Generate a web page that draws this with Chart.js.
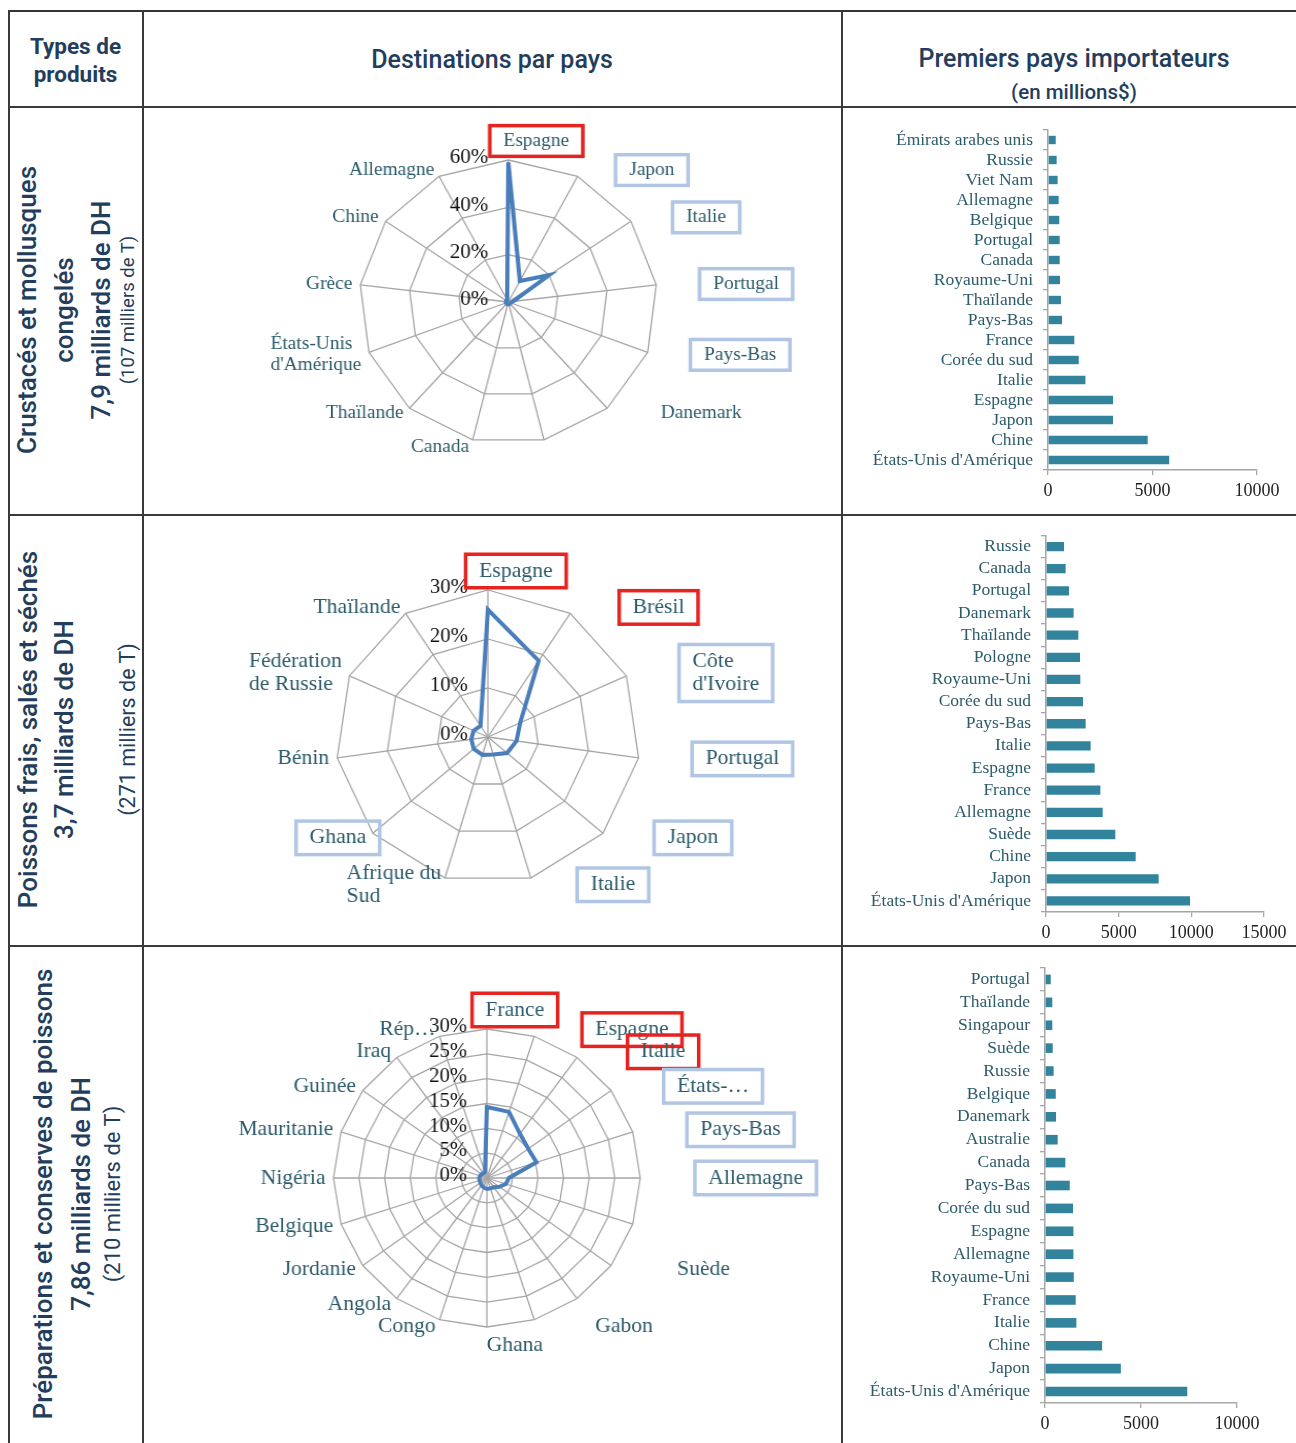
<!DOCTYPE html>
<html>
<head>
<meta charset="utf-8">
<script src="https://cdn.jsdelivr.net/npm/chart.js@4.4.1/dist/chart.umd.min.js"></script>
<style>
  body { margin: 0; background: #fff; width: 1296px; height: 1443px; position: relative; overflow: hidden;
         font-family: Roboto, 'Noto Sans', sans-serif; color: #233d5c; }
  .hl { position: absolute; height: 1.5px; background: #3a3a3a; }
  .vl { position: absolute; width: 1.5px; background: #3a3a3a; }
  canvas { position: absolute; }
  .hd { position: absolute; text-align: center; white-space: nowrap; }
  .rot { position: absolute; transform-origin: 0 0; transform: rotate(-90deg); }
  .rot div { position: absolute; left: 0; width: 100%; text-align: center; white-space: nowrap; }
</style>
</head>
<body>
<!-- table rules -->
<div class="hl" style="left:8px;top:10px;width:1288px;height:2px;background:#333"></div>
<div class="hl" style="left:8px;top:106px;width:1288px"></div>
<div class="hl" style="left:8px;top:514px;width:1288px"></div>
<div class="hl" style="left:8px;top:945px;width:1288px"></div>
<div class="vl" style="left:8px;top:10px;height:1433px"></div>
<div class="vl" style="left:142px;top:10px;height:1433px"></div>
<div class="vl" style="left:841px;top:10px;height:1433px"></div>

<!-- header -->
<div class="hd" style="left:9px;width:133px;top:32px;font-size:22.5px;font-weight:700;line-height:28px">Types de<br>produits</div>
<div class="hd" style="left:143px;width:698px;top:45px;font-size:25px;font-weight:500">Destinations par pays</div>
<div class="hd" style="left:842px;width:464px;top:44px;font-size:25px;font-weight:500">Premiers pays importateurs</div>
<div class="hd" style="left:842px;width:464px;top:80px;font-size:20.5px;font-weight:500">(en millions$)</div>

<!-- row titles, rotated -->
<div class="rot" style="left:9px;top:514px;width:408px;height:133px">
  <div style="top:2px;font-size:26px;line-height:32px;font-weight:500">Crustacés et mollusques</div>
  <div style="top:39px;font-size:26px;line-height:32px;font-weight:500">congelés</div>
  <div style="top:76px;font-size:26px;line-height:32px;font-weight:500">7,9 milliards de DH</div>
  <div style="top:108px;font-size:18.5px;line-height:22px">(107 milliers de T)</div>
</div>
<div class="rot" style="left:9px;top:945px;width:431px;height:133px">
  <div style="top:3px;font-size:26px;line-height:32px;font-weight:500">Poissons frais,  salés et séchés</div>
  <div style="top:39px;font-size:26px;line-height:32px;font-weight:500">3,7 milliards de DH</div>
  <div style="top:106px;font-size:21.5px;line-height:26px">(271 milliers de T)</div>
</div>
<div class="rot" style="left:9px;top:1443px;width:498px;height:133px">
  <div style="top:18px;font-size:26px;line-height:32px;font-weight:500">Préparations et conserves de poissons</div>
  <div style="top:56px;font-size:26px;line-height:32px;font-weight:500">7,86 milliards de DH</div>
  <div style="top:91px;font-size:22px;line-height:26px">(210 milliers de T)</div>
</div>

<canvas id="r1"></canvas>
<canvas id="r2"></canvas>
<canvas id="r3"></canvas>
<canvas id="b1" width="454" height="406" style="left:842px;top:107px"></canvas>
<canvas id="b2" width="454" height="429" style="left:842px;top:515px"></canvas>
<canvas id="b3" width="454" height="497" style="left:842px;top:946px"></canvas>

<script>
// ---- data: destinations (share of exports, %) ----
const crustLabels = ['Espagne', 'Japon', 'Italie', 'Portugal', 'Pays-Bas', 'Danemark', '', 'Canada',
  'Thaïlande', ['États-Unis', "d'Amérique"], 'Grèce', 'Chine', 'Allemagne'];
const crustShares = [59, 10, 20, 2, 1, 1, 1, 1, 1, 1, 1, 1, 1];
const crustTicks = { max: 60, step: 20 };

const fraisLabels = ['Espagne', 'Brésil', ['Côte', "d'Ivoire"], 'Portugal', 'Japon', 'Italie',
  ['Afrique du', 'Sud'], 'Ghana', 'Bénin', ['Fédération', 'de Russie'], 'Thaïlande'];
const fraisShares = [26, 18.5, 7, 5.7, 5, 3.7, 3.8, 3.7, 3.3, 3.1, 2.7];
const fraisTicks = { max: 30, step: 10 };

const consLabels = ['France', 'Espagne', 'Italie', 'États-…', 'Pays-Bas', 'Allemagne', '', 'Suède', '',
  'Gabon', 'Ghana', 'Congo', 'Angola', 'Jordanie', 'Belgique', 'Nigéria', 'Mauritanie', 'Guinée', 'Iraq', 'Rép…'];
const consShares = [14.3, 14, 11, 10, 10.2, 4.3, 3.9, 3, 2.3, 2.2, 2.2, 2, 1.8, 1.6, 1.5, 1.5, 1.4, 1.3, 1.2, 1.2];
const consTicks = { max: 30, step: 5 };

// highlighted destinations
const crustRed = ['Espagne'];
const crustBlue = ['Japon', 'Italie', 'Portugal', 'Pays-Bas'];
const fraisRed = ['Espagne', 'Brésil'];
const fraisBlue = ["Côte d'Ivoire", 'Portugal', 'Japon', 'Italie', 'Ghana'];
const consRed = ['France', 'Espagne', 'Italie'];
const consBlue = ['États-…', 'Pays-Bas', 'Allemagne'];

// ---- data: top importers (millions $) ----
const crustImp = ['Émirats arabes unis', 'Russie', 'Viet Nam', 'Allemagne', 'Belgique', 'Portugal', 'Canada',
  'Royaume-Uni', 'Thaïlande', 'Pays-Bas', 'France', 'Corée du sud', 'Italie', 'Espagne', 'Japon', 'Chine',
  "États-Unis d'Amérique"];
const crustImpVal = [370, 415, 460, 510, 540, 560, 560, 575, 620, 670, 1260, 1470, 1790, 3110, 3110, 4770, 5800];
const crustImpMax = 10000;

const fraisImp = ['Russie', 'Canada', 'Portugal', 'Danemark', 'Thaïlande', 'Pologne', 'Royaume-Uni',
  'Corée du sud', 'Pays-Bas', 'Italie', 'Espagne', 'France', 'Allemagne', 'Suède', 'Chine', 'Japon',
  "États-Unis d'Amérique"];
const fraisImpVal = [1240, 1350, 1580, 1900, 2225, 2340, 2360, 2545, 2730, 3070, 3350, 3740, 3900, 4770, 6170, 7750, 9910];
const fraisImpMax = 15000;

const consImp = ['Portugal', 'Thaïlande', 'Singapour', 'Suède', 'Russie', 'Belgique', 'Danemark', 'Australie',
  'Canada', 'Pays-Bas', 'Corée du sud', 'Espagne', 'Allemagne', 'Royaume-Uni', 'France', 'Italie', 'Chine',
  'Japon', "États-Unis d'Amérique"];
const consImpVal = [300, 380, 380, 400, 450, 560, 575, 660, 1060, 1290, 1460, 1480, 1480, 1500, 1600, 1635, 2975, 3950, 7410];
const consImpMax = 10000;

const serif = "'Liberation Serif', 'Times New Roman', serif";
const labelColor = '#2c5b6b';
const gridGrey = '#a6a6a6';

// draws the % ticks and the country names around the radar
// (the canvas is stretched horizontally by sx, like the original pasted charts)
function radarText(size, red, blue, sx, gap) {
  return {
    id: 'radarText',
    afterDraw(chart) {
      const scale = chart.scales.r;
      const ctx = chart.ctx;
      ctx.save();
      ctx.font = '20px ' + serif;
      ctx.fillStyle = '#111';
      ctx.textAlign = 'right';
      ctx.textBaseline = 'middle';
      scale.ticks.forEach(t => {
        const d = scale.getDistanceFromCenterForValue(t.value);
        ctx.fillText(t.value + '%', scale.xCenter - 20 / sx, scale.yCenter - d - 2);
      });

      ctx.font = size + 'px ' + serif;
      ctx.textAlign = 'left';
      const lh = size * 1.12;
      chart.data.labels.forEach((lab, i) => {
        const lines = [].concat(lab);
        const name = lines.join(' ');
        if (!name) return;
        const a = scale.getIndexAngle(i);
        const s = Math.sin(a), c = Math.cos(a);
        const p = scale.getPointPosition(i, scale.drawingArea);
        const w = Math.max(...lines.map(l => ctx.measureText(l).width));
        const h = lh * lines.length;
        let x, y;
        if (Math.abs(s) < 0.01) {
          x = p.x + 28 / sx - w / 2;
          y = c > 0 ? p.y - 19 : p.y + 18;
        } else if (s > 0) {
          x = p.x + (gap + 10 * s) / sx;
          y = p.y - 7 * c;
        } else {
          x = p.x - (2 - 6 * s) / sx - w;
          y = p.y - 7 * c;
        }
        const top = y - h / 2;
        ctx.fillStyle = labelColor;
        lines.forEach((l, k) => ctx.fillText(l, x, top + lh * (k + 0.5)));
        const box = red.includes(name) ? '#e52421' : (blue.includes(name) ? '#b0c6e4' : null);
        if (box) {
          ctx.strokeStyle = box;
          ctx.lineWidth = 3.5;
          ctx.strokeRect(x - 13, top - 5, w + 26, h + 10);
        }
      });
      ctx.restore();
    }
  };
}

// geo: cell box on the page, centre and radius of the web, horizontal stretch, label gap
function makeRadar(id, labels, values, ticks, geo, size, red, blue) {
  const cv = document.getElementById(id);
  const w = Math.round(geo.width / geo.sx);
  const cx = Math.round((geo.cx - geo.left) / geo.sx);
  const cy = geo.cy - geo.top;
  cv.width = w;
  cv.height = geo.height;
  cv.style.left = geo.left + 'px';
  cv.style.top = geo.top + 'px';
  cv.style.width = geo.width + 'px';
  cv.style.height = geo.height + 'px';
  new Chart(cv, {
    type: 'radar',
    data: {
      labels: labels,
      datasets: [{ data: values, borderColor: '#4a7ebb', borderWidth: 4, pointRadius: 0,
                   pointHoverRadius: 0, fill: false }]
    },
    options: {
      responsive: false,
      animation: false,
      layout: { padding: { left: cx - geo.r, right: w - cx - geo.r, top: cy - geo.r, bottom: geo.height - cy - geo.r } },
      plugins: { legend: { display: false }, tooltip: { enabled: false } },
      scales: {
        r: {
          min: 0, max: ticks.max,
          ticks: { stepSize: ticks.step, display: false },
          pointLabels: { display: false },
          grid: { color: gridGrey, lineWidth: 1.3 },
          angleLines: { color: gridGrey, lineWidth: 1.3 }
        }
      }
    },
    plugins: [radarText(size, red, blue, geo.sx, geo.gap)]
  });
}

function makeBars(id, labels, values, max, pad, yWidth, xHeight) {
  new Chart(document.getElementById(id), {
    type: 'bar',
    data: {
      labels: labels,
      datasets: [{ data: values, backgroundColor: '#31849b', barPercentage: 0.42, categoryPercentage: 1 }]
    },
    options: {
      indexAxis: 'y',
      responsive: false,
      animation: false,
      layout: { padding: pad },
      plugins: { legend: { display: false }, tooltip: { enabled: false } },
      scales: {
        x: {
          min: 0, max: max,
          ticks: { stepSize: 5000, padding: 5, maxRotation: 0, color: '#222',
                   font: { family: serif, size: 18 }, callback: v => String(v) },
          grid: { drawOnChartArea: false, tickLength: 5, color: gridGrey, lineWidth: 1.3 },
          border: { color: gridGrey, width: 1.5 },
          afterFit: a => { a.height = xHeight; }
        },
        y: {
          ticks: { autoSkip: false, padding: 10, color: labelColor, font: { family: serif, size: 17.5 } },
          grid: { drawOnChartArea: false, tickLength: 5, color: gridGrey, lineWidth: 1.3 },
          border: { color: gridGrey, width: 1.5 },
          afterFit: a => { a.width = yWidth; }
        }
      }
    }
  });
}

makeRadar('r1', crustLabels, crustShares, crustTicks,
  { left: 143, top: 107, width: 697, height: 406, cx: 508, cy: 302, r: 142, sx: 1.05, gap: 47 }, 18.5, crustRed, crustBlue);
makeRadar('r2', fraisLabels, fraisShares, fraisTicks,
  { left: 143, top: 515, width: 697, height: 429, cx: 488, cy: 737, r: 147, sx: 1.035, gap: 57 }, 21, fraisRed, fraisBlue);
makeRadar('r3', consLabels, consShares, consTicks,
  { left: 143, top: 946, width: 697, height: 497, cx: 487, cy: 1178, r: 149, sx: 1.03, gap: 58 }, 21, consRed, consBlue);

makeBars('b1', crustImp, crustImpVal, crustImpMax, { top: 23, right: 39, left: 0, bottom: 0 }, 206, 43);
makeBars('b2', fraisImp, fraisImpVal, fraisImpMax, { top: 18, right: 32, left: 0, bottom: 0 }, 204, 32);
makeBars('b3', consImp, consImpVal, consImpMax, { top: 22, right: 59, left: 0, bottom: 0 }, 203, 40);
</script>
</body>
</html>
